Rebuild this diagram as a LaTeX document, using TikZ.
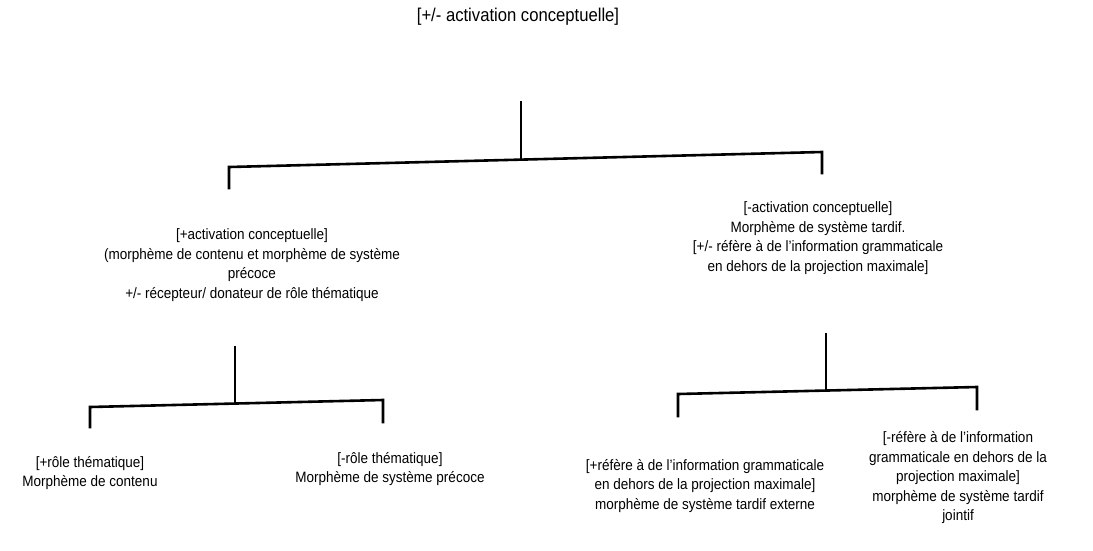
\documentclass[tikz,border=0pt]{standalone}
\usepackage{fontspec}
\setmainfont[FakeStretch=0.9]{Liberation Sans}
\begin{document}
\begin{tikzpicture}[x=1pt,y=-1pt,
  lbl/.style={align=center,inner sep=0pt,font=\fontsize{15}{19.5}\selectfont},
  toplbl/.style={align=center,inner sep=0pt,font=\fontsize{18.5}{20}\selectfont},
  br/.style={line width=2.6pt,line cap=rect,line join=miter}]
\useasboundingbox (0,0) rectangle (1093,550);
% texts
\node[toplbl] (top) at (518,17) {[+/- activation conceptuelle]};
\node[lbl] (L) at (252,265) {[+activation conceptuelle]\\(morphème de contenu et morphème de système\\précoce\\+/- récepteur/ donateur de rôle thématique};
\node[lbl] (R) at (818,238) {[-activation conceptuelle]\\Morphème de système tardif.\\{[+/- réfère à de l'information grammaticale}\\en dehors de la projection maximale]};
\node[lbl] (LL) at (90,473) {[+rôle thématique]\\Morphème de contenu};
\node[lbl] (LR) at (390,469) {[-rôle thématique]\\Morphème de système précoce};
\node[lbl] (RL) at (705,486) {[+réfère à de l'information grammaticale\\en dehors de la projection maximale]\\morphème de système tardif externe};
\node[lbl] (RR) at (958,478) {[-réfère à de l'information\\grammaticale en dehors de la\\projection maximale]\\morphème de système tardif\\jointif};
% tree coordinates
\coordinate (t0) at (521,102);
\coordinate (t1) at (521,159.5);
\coordinate (ta) at (229,167);
\coordinate (tb) at (822,152);
\coordinate (ta2) at (229,188);
\coordinate (tb2) at (822,173);
\coordinate (l0) at (235,347);
\coordinate (l1) at (235,403.5);
\coordinate (la) at (90,407);
\coordinate (lb) at (383,400);
\coordinate (la2) at (90,427);
\coordinate (lb2) at (383,422);
\coordinate (r0) at (826,334);
\coordinate (r1) at (826,390.5);
\coordinate (ra) at (678,394);
\coordinate (rb) at (977,387);
\coordinate (ra2) at (678,416);
\coordinate (rb2) at (977,409);
% brackets
\draw[br] (t0) -- (t1);
\draw[br] (ta2) -- (ta) -- (tb) -- (tb2);
\draw[br] (l0) -- (l1);
\draw[br] (la2) -- (la) -- (lb) -- (lb2);
\draw[br] (r0) -- (r1);
\draw[br] (ra2) -- (ra) -- (rb) -- (rb2);
\end{tikzpicture}
\end{document}
